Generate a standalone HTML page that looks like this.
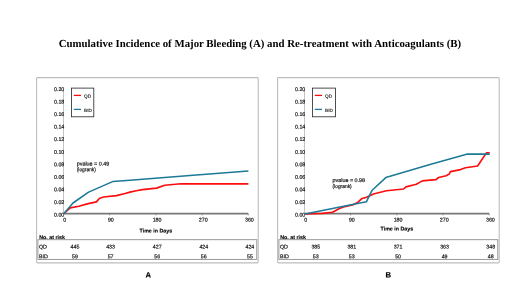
<!DOCTYPE html>
<html><head><meta charset="utf-8"><title>Cumulative Incidence</title>
<style>
html,body{margin:0;padding:0;background:#fff;}
body{width:520px;height:292px;overflow:hidden;position:relative;font-family:"Liberation Sans",sans-serif;}
svg{position:absolute;left:0;top:0;display:block;text-rendering:geometricPrecision;will-change:transform;opacity:0.999;}
.t{font-family:"Liberation Sans",sans-serif;font-size:5.3px;fill:#111;stroke:#111;stroke-width:0.18px;}
.b{font-family:"Liberation Sans",sans-serif;font-size:5.3px;font-weight:bold;fill:#000;stroke:#000;stroke-width:0.14px;}
.l{font-family:"Liberation Sans",sans-serif;font-size:4.7px;fill:#222;stroke:#222;stroke-width:0.14px;}
.L{font-family:"Liberation Sans",sans-serif;font-size:7.7px;font-weight:bold;fill:#000;stroke:#000;stroke-width:0.15px;}
.T{font-family:"Liberation Serif",serif;font-size:10.8px;font-weight:bold;fill:#000;}
</style></head><body>
<svg width="520" height="292" viewBox="0 0 520 292">
<defs><filter id="sf" x="-10%" y="-30%" width="120%" height="160%"><feGaussianBlur stdDeviation="0.2"/></filter></defs>
<rect x="0" y="0" width="520" height="292" fill="#fff"/>
<text x="259.9" y="47.1" text-anchor="middle" class="T" textLength="402.4" lengthAdjust="spacingAndGlyphs">Cumulative Incidence of Major Bleeding (A) and Re-treatment with Anticoagulants (B)</text>
<rect x="36.6" y="77.6" width="221.6" height="185.3" rx="0.9" fill="#fff" stroke="#bdbdbd" stroke-width="1.1"/>
<line x1="63.5" y1="89" x2="63.5" y2="213.7" stroke="#bcbcbc" stroke-width="0.9"/>
<g filter="url(#sf)"><text x="64.3" y="216.50" text-anchor="end" class="t" transform="rotate(0.05 64.3 216.50)">0.00</text></g>
<g filter="url(#sf)"><text x="64.3" y="203.94" text-anchor="end" class="t" transform="rotate(0.05 64.3 203.94)">0.02</text></g>
<g filter="url(#sf)"><text x="64.3" y="191.38" text-anchor="end" class="t" transform="rotate(0.05 64.3 191.38)">0.04</text></g>
<g filter="url(#sf)"><text x="64.3" y="178.82" text-anchor="end" class="t" transform="rotate(0.05 64.3 178.82)">0.06</text></g>
<g filter="url(#sf)"><text x="64.3" y="166.26" text-anchor="end" class="t" transform="rotate(0.05 64.3 166.26)">0.08</text></g>
<g filter="url(#sf)"><text x="64.3" y="153.70" text-anchor="end" class="t" transform="rotate(0.05 64.3 153.70)">0.10</text></g>
<g filter="url(#sf)"><text x="64.3" y="141.14" text-anchor="end" class="t" transform="rotate(0.05 64.3 141.14)">0.12</text></g>
<g filter="url(#sf)"><text x="64.3" y="128.58" text-anchor="end" class="t" transform="rotate(0.05 64.3 128.58)">0.14</text></g>
<g filter="url(#sf)"><text x="64.3" y="116.02" text-anchor="end" class="t" transform="rotate(0.05 64.3 116.02)">0.16</text></g>
<g filter="url(#sf)"><text x="64.3" y="103.46" text-anchor="end" class="t" transform="rotate(0.05 64.3 103.46)">0.18</text></g>
<g filter="url(#sf)"><text x="64.3" y="90.90" text-anchor="end" class="t" transform="rotate(0.05 64.3 90.90)">0.20</text></g>
<line x1="63.5" y1="213.7" x2="248.2" y2="213.7" stroke="#787878" stroke-width="1.7"/>
<line x1="63.50" y1="213.7" x2="63.50" y2="215.29999999999998" stroke="#787878" stroke-width="0.9"/>
<g filter="url(#sf)"><text x="64.70" y="221.6" text-anchor="middle" class="t" transform="rotate(0.05 64.70 221.6)">0</text></g>
<line x1="109.67" y1="213.7" x2="109.67" y2="215.29999999999998" stroke="#787878" stroke-width="0.9"/>
<g filter="url(#sf)"><text x="110.88" y="221.6" text-anchor="middle" class="t" transform="rotate(0.05 110.88 221.6)">90</text></g>
<line x1="155.85" y1="213.7" x2="155.85" y2="215.29999999999998" stroke="#787878" stroke-width="0.9"/>
<g filter="url(#sf)"><text x="157.05" y="221.6" text-anchor="middle" class="t" transform="rotate(0.05 157.05 221.6)">180</text></g>
<line x1="202.03" y1="213.7" x2="202.03" y2="215.29999999999998" stroke="#787878" stroke-width="0.9"/>
<g filter="url(#sf)"><text x="203.22" y="221.6" text-anchor="middle" class="t" transform="rotate(0.05 203.22 221.6)">270</text></g>
<line x1="248.20" y1="213.7" x2="248.20" y2="215.29999999999998" stroke="#787878" stroke-width="0.9"/>
<g filter="url(#sf)"><text x="249.40" y="221.6" text-anchor="middle" class="t" transform="rotate(0.05 249.40 221.6)">360</text></g>
<g filter="url(#sf)"><text x="155.85" y="232.6" text-anchor="middle" class="b" transform="rotate(0.05 155.85 232.6)">Time in Days</text></g>
<rect x="71.5" y="88.1" width="22.3" height="28.7" fill="#fff" stroke="#222" stroke-width="0.8"/>
<line x1="73.8" y1="95.4" x2="81" y2="95.4" stroke="#fb0d0d" stroke-width="1.3"/>
<line x1="73.8" y1="109.4" x2="81" y2="109.4" stroke="#1d7a97" stroke-width="1.3"/>
<g filter="url(#sf)"><text x="84.1" y="97.7" class="l" transform="rotate(0.05 84.1 97.7)">QD</text></g>
<g filter="url(#sf)"><text x="84.1" y="111.9" class="l" transform="rotate(0.05 84.1 111.9)">BID</text></g>
<g filter="url(#sf)"><text x="76.7" y="165.4" class="t" style="font-size:5.42px" transform="rotate(0.05 76.7 165.4)">pvalue = 0.49</text></g>
<g filter="url(#sf)"><text x="76.7" y="171.20000000000002" class="t" textLength="19.2" lengthAdjust="spacingAndGlyphs" transform="rotate(0.05 76.7 171.20000000000002)">(logrank)</text></g>
<polyline points="63.8,213.7 70.2,207.9 78.8,206.2 88.3,203.6 96.4,201.9 99.3,198.5 103.5,197.0 116.5,195.6 125,193.5 130,192.1 136.3,190.7 142.5,189.6 156.5,188.1 164.8,185.2 181,183.7 190,183.9 248.4,183.9" fill="none" stroke="#fb0d0d" stroke-width="1.65" stroke-linejoin="round" stroke-linecap="butt"/>
<polyline points="63.8,213.7 73,203 88.6,192.1 112.6,181.6 130,180.3 190,175.6 248.4,171.0" fill="none" stroke="#1d7a97" stroke-width="1.55" stroke-linejoin="round" stroke-linecap="butt"/>
<g filter="url(#sf)"><text x="39.3" y="239.1" class="b" transform="rotate(0.05 39.3 239.1)">No. at risk</text></g>
<rect x="37.9" y="239.7" width="218.9" height="19.7" fill="none" stroke="#8c8c8c" stroke-width="0.9"/>
<g filter="url(#sf)"><text x="38.9" y="248.6" class="t" transform="rotate(0.05 38.9 248.6)">QD</text></g>
<g filter="url(#sf)"><text x="38.9" y="258.3" class="t" transform="rotate(0.05 38.9 258.3)">BID</text></g>
<g filter="url(#sf)"><text x="75" y="248.6" text-anchor="middle" class="t" transform="rotate(0.05 75 248.6)">445</text></g>
<g filter="url(#sf)"><text x="75" y="258.3" text-anchor="middle" class="t" transform="rotate(0.05 75 258.3)">59</text></g>
<g filter="url(#sf)"><text x="110.6" y="248.6" text-anchor="middle" class="t" transform="rotate(0.05 110.6 248.6)">433</text></g>
<g filter="url(#sf)"><text x="110.6" y="258.3" text-anchor="middle" class="t" transform="rotate(0.05 110.6 258.3)">57</text></g>
<g filter="url(#sf)"><text x="157.2" y="248.6" text-anchor="middle" class="t" transform="rotate(0.05 157.2 248.6)">427</text></g>
<g filter="url(#sf)"><text x="157.2" y="258.3" text-anchor="middle" class="t" transform="rotate(0.05 157.2 258.3)">56</text></g>
<g filter="url(#sf)"><text x="203.8" y="248.6" text-anchor="middle" class="t" transform="rotate(0.05 203.8 248.6)">424</text></g>
<g filter="url(#sf)"><text x="203.8" y="258.3" text-anchor="middle" class="t" transform="rotate(0.05 203.8 258.3)">56</text></g>
<g filter="url(#sf)"><text x="249.9" y="248.6" text-anchor="middle" class="t" transform="rotate(0.05 249.9 248.6)">424</text></g>
<g filter="url(#sf)"><text x="249.9" y="258.3" text-anchor="middle" class="t" transform="rotate(0.05 249.9 258.3)">55</text></g>
<text x="148.3" y="277.6" text-anchor="middle" class="L" transform="rotate(0.05 148.3 277.6)">A</text>
<rect x="277.6" y="77.6" width="221.6" height="185.3" rx="0.9" fill="#fff" stroke="#bdbdbd" stroke-width="1.1"/>
<line x1="304.5" y1="89" x2="304.5" y2="213.7" stroke="#bcbcbc" stroke-width="0.9"/>
<g filter="url(#sf)"><text x="305.3" y="216.50" text-anchor="end" class="t" transform="rotate(0.05 305.3 216.50)">0.00</text></g>
<g filter="url(#sf)"><text x="305.3" y="203.94" text-anchor="end" class="t" transform="rotate(0.05 305.3 203.94)">0.02</text></g>
<g filter="url(#sf)"><text x="305.3" y="191.38" text-anchor="end" class="t" transform="rotate(0.05 305.3 191.38)">0.04</text></g>
<g filter="url(#sf)"><text x="305.3" y="178.82" text-anchor="end" class="t" transform="rotate(0.05 305.3 178.82)">0.06</text></g>
<g filter="url(#sf)"><text x="305.3" y="166.26" text-anchor="end" class="t" transform="rotate(0.05 305.3 166.26)">0.08</text></g>
<g filter="url(#sf)"><text x="305.3" y="153.70" text-anchor="end" class="t" transform="rotate(0.05 305.3 153.70)">0.10</text></g>
<g filter="url(#sf)"><text x="305.3" y="141.14" text-anchor="end" class="t" transform="rotate(0.05 305.3 141.14)">0.12</text></g>
<g filter="url(#sf)"><text x="305.3" y="128.58" text-anchor="end" class="t" transform="rotate(0.05 305.3 128.58)">0.14</text></g>
<g filter="url(#sf)"><text x="305.3" y="116.02" text-anchor="end" class="t" transform="rotate(0.05 305.3 116.02)">0.16</text></g>
<g filter="url(#sf)"><text x="305.3" y="103.46" text-anchor="end" class="t" transform="rotate(0.05 305.3 103.46)">0.18</text></g>
<g filter="url(#sf)"><text x="305.3" y="90.90" text-anchor="end" class="t" transform="rotate(0.05 305.3 90.90)">0.20</text></g>
<line x1="304.5" y1="213.7" x2="489.2" y2="213.7" stroke="#787878" stroke-width="1.7"/>
<line x1="304.50" y1="213.7" x2="304.50" y2="215.29999999999998" stroke="#787878" stroke-width="0.9"/>
<g filter="url(#sf)"><text x="305.70" y="221.6" text-anchor="middle" class="t" transform="rotate(0.05 305.70 221.6)">0</text></g>
<line x1="350.68" y1="213.7" x2="350.68" y2="215.29999999999998" stroke="#787878" stroke-width="0.9"/>
<g filter="url(#sf)"><text x="351.88" y="221.6" text-anchor="middle" class="t" transform="rotate(0.05 351.88 221.6)">90</text></g>
<line x1="396.85" y1="213.7" x2="396.85" y2="215.29999999999998" stroke="#787878" stroke-width="0.9"/>
<g filter="url(#sf)"><text x="398.05" y="221.6" text-anchor="middle" class="t" transform="rotate(0.05 398.05 221.6)">180</text></g>
<line x1="443.02" y1="213.7" x2="443.02" y2="215.29999999999998" stroke="#787878" stroke-width="0.9"/>
<g filter="url(#sf)"><text x="444.22" y="221.6" text-anchor="middle" class="t" transform="rotate(0.05 444.22 221.6)">270</text></g>
<line x1="489.20" y1="213.7" x2="489.20" y2="215.29999999999998" stroke="#787878" stroke-width="0.9"/>
<g filter="url(#sf)"><text x="490.40" y="221.6" text-anchor="middle" class="t" transform="rotate(0.05 490.40 221.6)">360</text></g>
<g filter="url(#sf)"><text x="396.85" y="230.5" text-anchor="middle" class="b" transform="rotate(0.05 396.85 230.5)">Time in Days</text></g>
<rect x="312.5" y="88.1" width="23.0" height="28.7" fill="#fff" stroke="#222" stroke-width="0.8"/>
<line x1="314.8" y1="95.4" x2="322" y2="95.4" stroke="#fb0d0d" stroke-width="1.3"/>
<line x1="314.8" y1="109.4" x2="322" y2="109.4" stroke="#1d7a97" stroke-width="1.3"/>
<g filter="url(#sf)"><text x="325.1" y="97.7" class="l" transform="rotate(0.05 325.1 97.7)">QD</text></g>
<g filter="url(#sf)"><text x="325.1" y="111.9" class="l" transform="rotate(0.05 325.1 111.9)">BID</text></g>
<g filter="url(#sf)"><text x="332.5" y="182.10000000000002" class="t" style="font-size:5.42px" transform="rotate(0.05 332.5 182.10000000000002)">pvalue = 0.98</text></g>
<g filter="url(#sf)"><text x="332.5" y="187.90000000000003" class="t" textLength="19.2" lengthAdjust="spacingAndGlyphs" transform="rotate(0.05 332.5 187.90000000000003)">(logrank)</text></g>
<polyline points="304.9,213.9 322.3,213.4 332.5,212.2 339.5,208.4 343.5,206.9 352.5,205 357.7,202.4 361.5,198.8 366.5,197.2 373.5,194 386.4,190.8 403.6,189.0 406,186.9 416.3,184.3 422.3,180.9 430,180.1 436,179.6 438.6,177.5 446.2,175.8 449.3,174 450.4,171.6 460.5,169.6 465.4,167.8 477.6,166 485.9,153.6 486.4,152.9 489.7,152.9" fill="none" stroke="#fb0d0d" stroke-width="1.65" stroke-linejoin="round" stroke-linecap="butt"/>
<polyline points="304.9,213.9 366.3,201.8 372.2,190.2 385.8,177.6 430,164.4 467.5,154.1 489.7,154.1" fill="none" stroke="#1d7a97" stroke-width="1.55" stroke-linejoin="round" stroke-linecap="butt"/>
<g filter="url(#sf)"><text x="280.3" y="239.1" class="b" transform="rotate(0.05 280.3 239.1)">No. at risk</text></g>
<rect x="278.9" y="239.7" width="218.9" height="19.7" fill="none" stroke="#8c8c8c" stroke-width="0.9"/>
<g filter="url(#sf)"><text x="279.9" y="248.6" class="t" transform="rotate(0.05 279.9 248.6)">QD</text></g>
<g filter="url(#sf)"><text x="279.9" y="258.3" class="t" transform="rotate(0.05 279.9 258.3)">BID</text></g>
<g filter="url(#sf)"><text x="315.8" y="248.6" text-anchor="middle" class="t" transform="rotate(0.05 315.8 248.6)">385</text></g>
<g filter="url(#sf)"><text x="315.8" y="258.3" text-anchor="middle" class="t" transform="rotate(0.05 315.8 258.3)">53</text></g>
<g filter="url(#sf)"><text x="351.8" y="248.6" text-anchor="middle" class="t" transform="rotate(0.05 351.8 248.6)">381</text></g>
<g filter="url(#sf)"><text x="351.8" y="258.3" text-anchor="middle" class="t" transform="rotate(0.05 351.8 258.3)">53</text></g>
<g filter="url(#sf)"><text x="398.1" y="248.6" text-anchor="middle" class="t" transform="rotate(0.05 398.1 248.6)">371</text></g>
<g filter="url(#sf)"><text x="398.1" y="258.3" text-anchor="middle" class="t" transform="rotate(0.05 398.1 258.3)">50</text></g>
<g filter="url(#sf)"><text x="444.6" y="248.6" text-anchor="middle" class="t" transform="rotate(0.05 444.6 248.6)">363</text></g>
<g filter="url(#sf)"><text x="444.6" y="258.3" text-anchor="middle" class="t" transform="rotate(0.05 444.6 258.3)">49</text></g>
<g filter="url(#sf)"><text x="490.7" y="248.6" text-anchor="middle" class="t" transform="rotate(0.05 490.7 248.6)">348</text></g>
<g filter="url(#sf)"><text x="490.7" y="258.3" text-anchor="middle" class="t" transform="rotate(0.05 490.7 258.3)">48</text></g>
<text x="388.3" y="277.6" text-anchor="middle" class="L" transform="rotate(0.05 388.3 277.6)">B</text>
</svg>
</body></html>
